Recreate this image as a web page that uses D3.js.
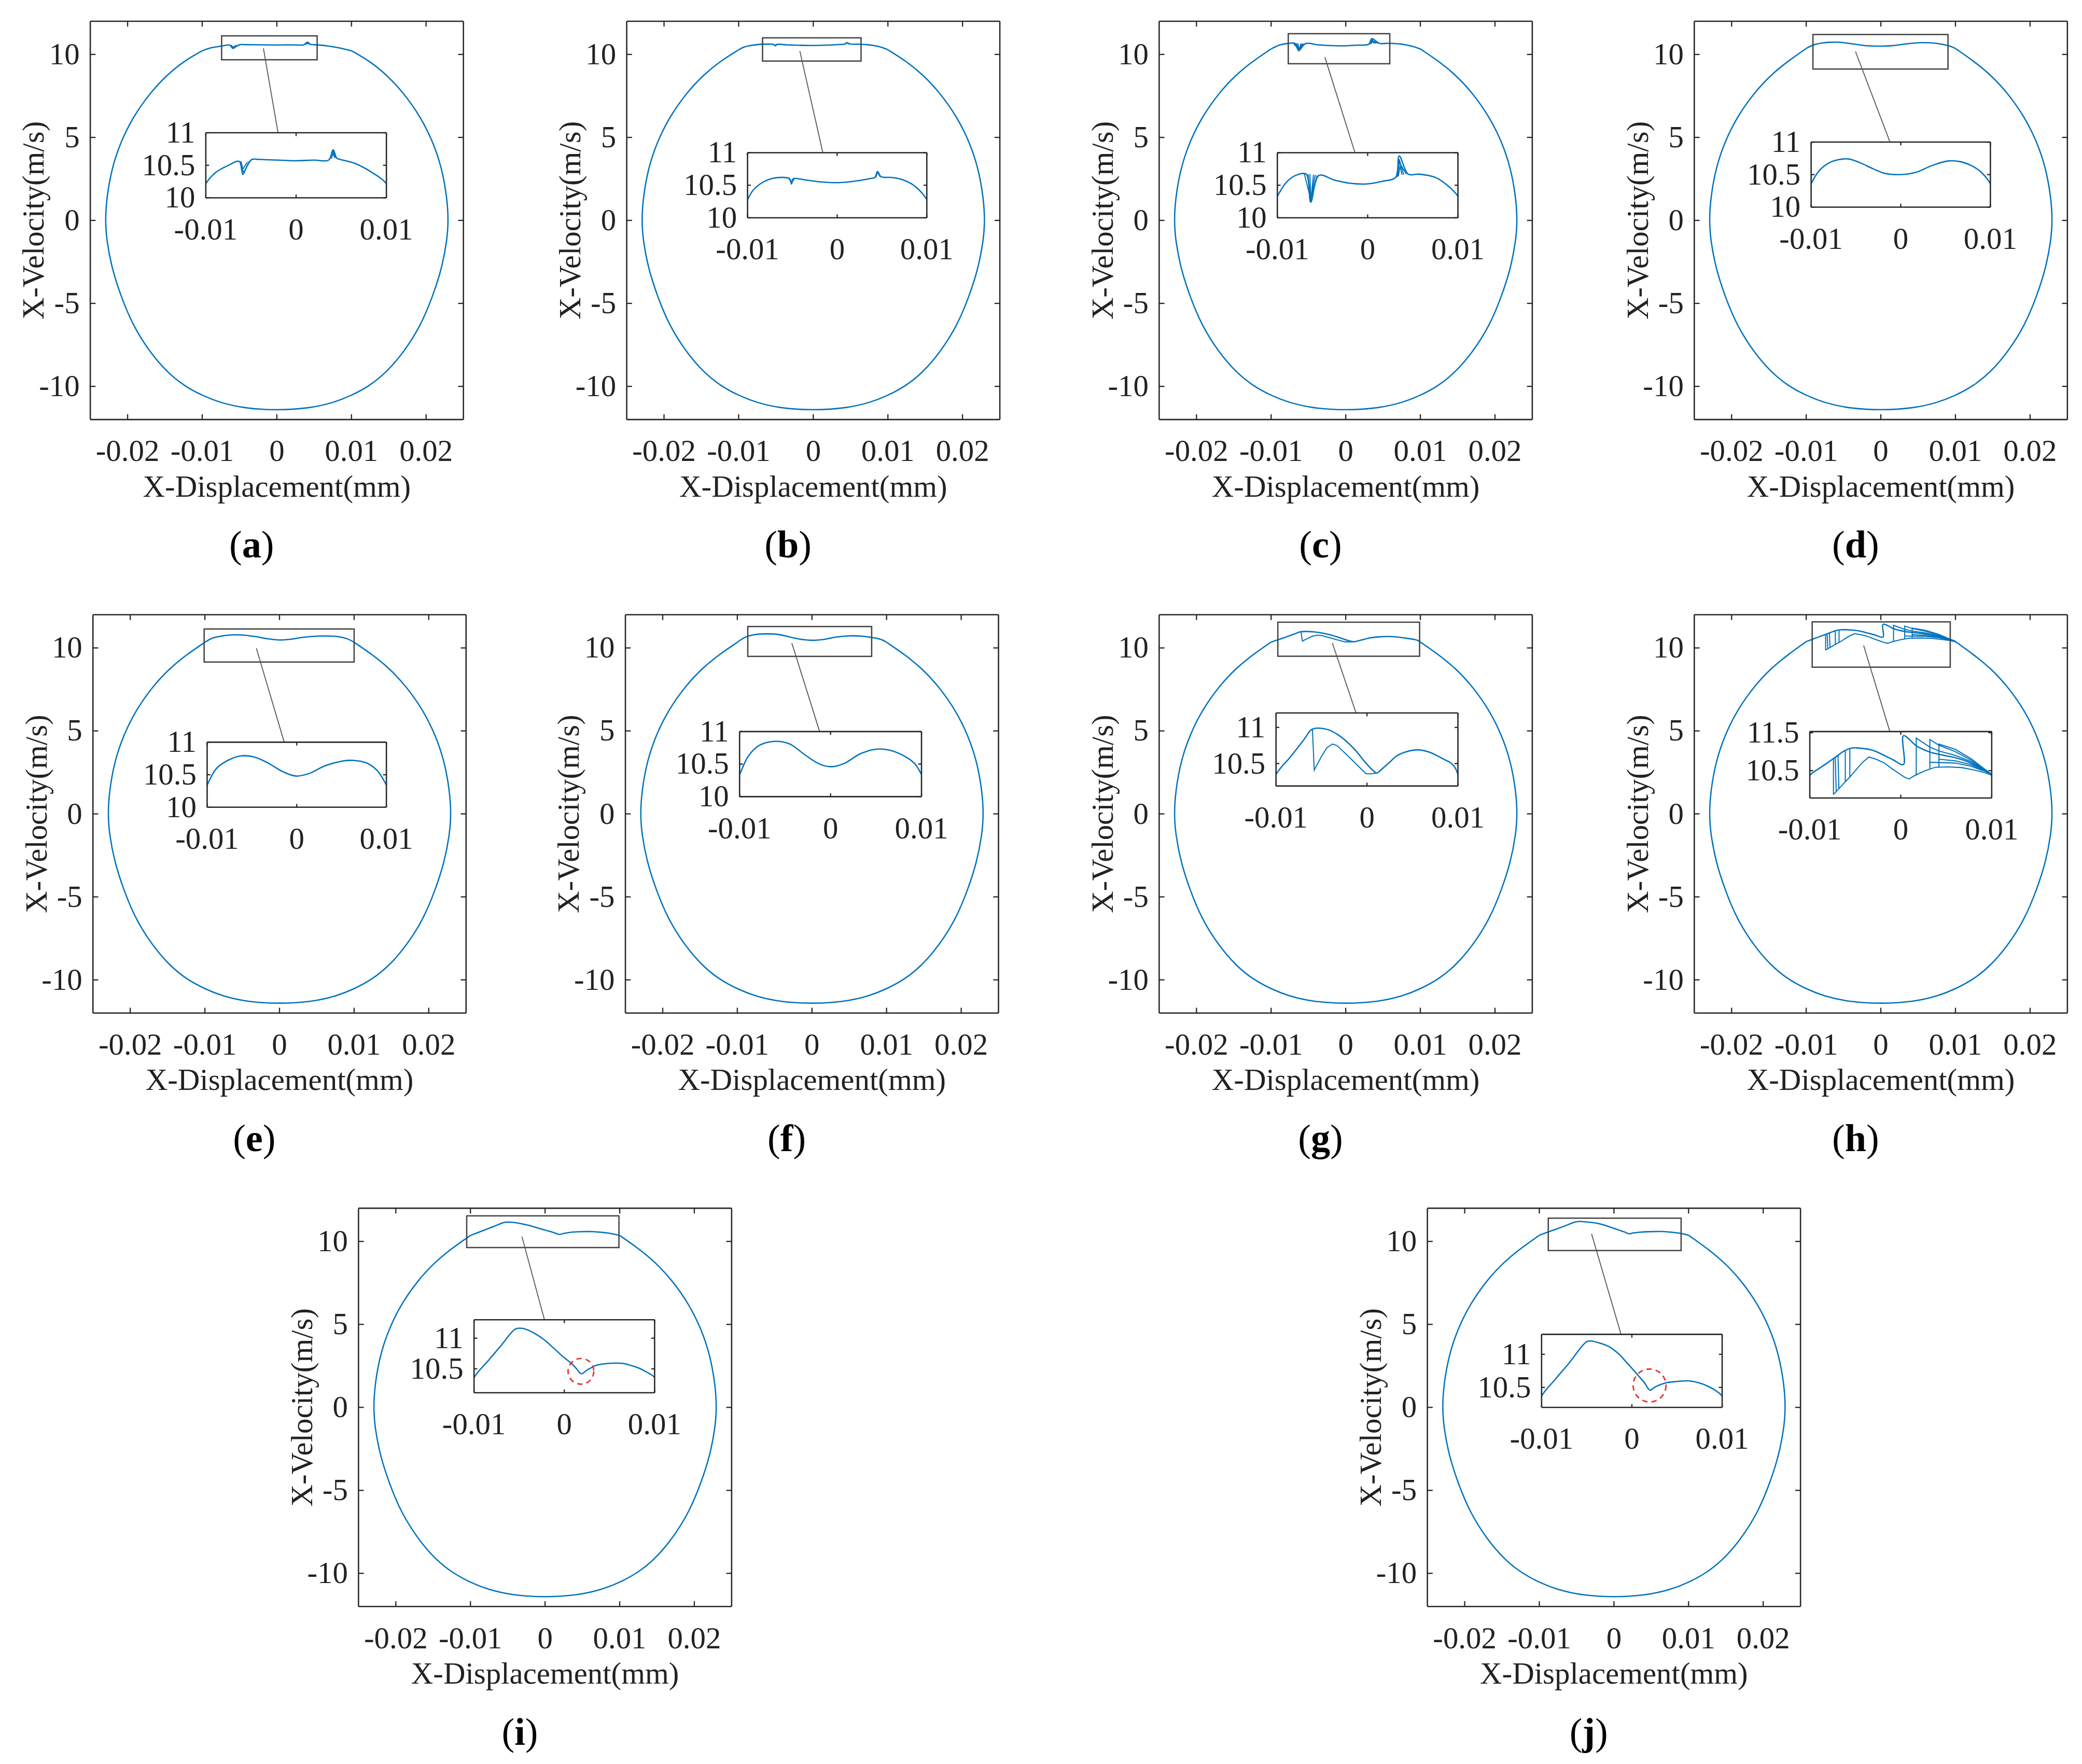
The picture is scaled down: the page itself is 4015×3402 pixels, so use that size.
<!DOCTYPE html>
<html>
<head>
<meta charset="utf-8">
<script src="https://cdnjs.cloudflare.com/ajax/libs/d3/7.8.5/d3.min.js"></script>
<style>
  body { margin: 0; background: #fff; }
  text { font-family: "Liberation Serif", "Times New Roman", serif; fill: #222; }
</style>
</head>
<body>
<div id="figure"></div>
<script>
// ---- data ----
var xTicks = [-0.02, -0.01, 0, 0.01, 0.02];
var xTickLabels = ["-0.02", "-0.01", "0", "0.01", "0.02"];
var yTicks = [-10, -5, 0, 5, 10];
var yTickLabels = ["-10", "-5", "0", "5", "10"];
var insetXTicks = [-0.01, 0, 0.01];
var insetXTickLabels = ["-0.01", "0", "0.01"];
var insetYTicksAF = [10, 10.5, 11];
var insetYTicksG = [10.5, 11];
var insetYTicksH = [10.5, 11.5];
var insetYTicksIJ = [10.5, 11];

// rest of the orbit, shared by all panels (right top -> bottom -> left top)
var orbit = [
  [0.0124, 9.61], [0.0147, 8.78], [0.0170, 7.68], [0.0193, 6.21], [0.0209, 4.75],
  [0.0221, 3.18], [0.0228, 1.40], [0.0230, 0.00], [0.0228, -1.23], [0.0221, -2.90],
  [0.0209, -4.56], [0.0193, -6.33], [0.0170, -7.95], [0.0147, -9.15], [0.0124, -9.98],
  [0.0100, -10.55], [0.0077, -10.97], [0.0043, -11.33], [0.0000, -11.44], [-0.0043, -11.33],
  [-0.0077, -10.97], [-0.0100, -10.55], [-0.0124, -9.98], [-0.0147, -9.15], [-0.0170, -7.95],
  [-0.0193, -6.33], [-0.0209, -4.56], [-0.0221, -2.90], [-0.0228, -1.23], [-0.0230, 0.00],
  [-0.0228, 1.40], [-0.0221, 3.18], [-0.0209, 4.75], [-0.0193, 6.21], [-0.0170, 7.68],
  [-0.0147, 8.78], [-0.0124, 9.61]
];

// top part of each orbit (the zoomed part), x from -0.01 to 0.01
var topA = [[-0.0100,10.22],[-0.0089,10.39],[-0.0075,10.50],[-0.0063,10.56],[-0.0059,10.36],[-0.0055,10.47],
  [-0.0049,10.59],[-0.0041,10.59],[-0.0020,10.58],[-0.0002,10.57],[0.0020,10.58],[0.0036,10.58],[0.0041,10.74],
  [0.0045,10.61],[0.0049,10.59],[0.0065,10.53],[0.0084,10.39],[0.0100,10.22]];
var extraA = [
  [[-0.0062,10.56],[-0.0058,10.38],[-0.0052,10.56]],
  [[-0.0061,10.56],[-0.0059,10.44],[-0.0054,10.55]],
  [[0.0037,10.59],[0.0041,10.72],[0.0044,10.62]],
  [[0.0039,10.60],[0.0041,10.68],[0.0043,10.61]]
];

var topB = [[-0.0100,10.28],[-0.0094,10.42],[-0.0086,10.52],[-0.0076,10.59],[-0.0062,10.62],[-0.0053,10.60],
  [-0.0051,10.52],[-0.0049,10.60],[-0.0035,10.58],[-0.0017,10.55],[0.0001,10.54],[0.0018,10.56],[0.0036,10.60],
  [0.0042,10.62],[0.0045,10.71],[0.0049,10.63],[0.0060,10.62],[0.0072,10.59],[0.0083,10.52],[0.0092,10.42],[0.0100,10.28]];
var extraB = [
  [[-0.0054,10.61],[-0.0051,10.53],[-0.0048,10.60]],
  [[0.0043,10.62],[0.0045,10.70],[0.0048,10.63]]
];

var topC = [[-0.0100,10.33],[-0.0089,10.56],[-0.0078,10.66],[-0.0068,10.67],[-0.0063,10.24],[-0.0054,10.65],
  [-0.0037,10.58],[-0.0019,10.53],[-0.0001,10.52],[0.0016,10.56],[0.0031,10.62],[0.0035,10.95],[0.0045,10.67],
  [0.0057,10.67],[0.0075,10.62],[0.0089,10.49],[0.0100,10.33]];
var extraC = [
  [[-0.0066,10.67],[-0.0063,10.24],[-0.0060,10.66]],
  [[-0.0064,10.67],[-0.0063,10.30],[-0.0058,10.66]],
  [[-0.0070,10.67],[-0.0063,10.28],[-0.0056,10.65]],
  [[0.0032,10.62],[0.0035,10.90],[0.0040,10.66]],
  [[0.0033,10.63],[0.0035,10.85],[0.0043,10.67]],
  [[0.0034,10.64],[0.0036,10.80],[0.0038,10.66]]
];

var topD = [[-0.0100,10.36],[-0.0091,10.56],[-0.0080,10.68],[-0.0069,10.73],[-0.0058,10.74],[-0.0045,10.68],
  [-0.0031,10.59],[-0.0018,10.52],[0.0000,10.50],[0.0018,10.54],[0.0035,10.64],[0.0053,10.71],[0.0066,10.70],
  [0.0080,10.63],[0.0091,10.52],[0.0100,10.36]];
var extraD = [];

var topE = [[-0.0100,10.34],[-0.0090,10.59],[-0.0077,10.72],[-0.0062,10.79],[-0.0047,10.77],[-0.0032,10.68],
  [-0.0016,10.55],[-0.0001,10.48],[0.0014,10.52],[0.0032,10.64],[0.0051,10.71],[0.0063,10.72],[0.0078,10.68],
  [0.0090,10.56],[0.0100,10.34]];
var extraE = [];

var topF = [[-0.0100,10.34],[-0.0090,10.63],[-0.0078,10.79],[-0.0061,10.85],[-0.0045,10.81],[-0.0027,10.63],
  [-0.0012,10.50],[0.0001,10.46],[0.0015,10.51],[0.0033,10.66],[0.0051,10.73],[0.0066,10.71],[0.0084,10.60],
  [0.0093,10.50],[0.0100,10.34]];
var extraF = [];

var topG = [[-0.0100,10.35],[-0.0085,10.58],[-0.0070,10.82],[-0.0061,10.97],[-0.0054,10.99],[-0.0043,10.97],
  [-0.0032,10.90],[-0.0021,10.79],[-0.0011,10.66],[-0.0002,10.52],[0.0007,10.40],[0.0011,10.37],[0.0016,10.42],
  [0.0025,10.52],[0.0033,10.61],[0.0045,10.67],[0.0057,10.69],[0.0068,10.66],[0.0077,10.61],[0.0086,10.55],
  [0.0092,10.51],[0.0097,10.44],[0.0100,10.35]];
var extraG = [
  [[-0.0060,10.98],[-0.0058,10.41],[-0.0050,10.60],[-0.0044,10.72],[-0.0038,10.77],[-0.0033,10.75],
   [-0.0022,10.62],[-0.0010,10.47],[-0.0001,10.36],[0.0005,10.36],[0.0011,10.37]]
];

var topH = [[-0.0100,10.38],[-0.0087,10.60],[-0.0075,10.80],[-0.0062,11.02],[-0.0055,11.09],[-0.0049,11.10],
  [-0.0040,11.08],[-0.0030,11.03],[-0.0018,10.90],[-0.0008,10.78],[0.0003,10.66],[0.0003,11.42],[0.0018,11.14],
  [0.0032,10.99],[0.0042,10.93],[0.0060,10.84],[0.0077,10.70],[0.0090,10.52],[0.0100,10.38]];
var extraH = [
  [[-0.0074,9.87],[-0.0055,10.36],[-0.0042,10.72],[-0.0035,10.86],[-0.0027,10.80],[-0.0018,10.70],
   [-0.0009,10.54],[0.0004,10.33],[0.0009,10.28],[0.0016,10.38],[0.0027,10.50],[0.0038,10.59],
   [0.0052,10.60],[0.0067,10.58],[0.0080,10.52],[0.0092,10.45],[0.0100,10.38]],
  [[-0.0074,10.82],[-0.0074,9.87]],
  [[-0.0072,10.86],[-0.0071,9.94]],
  [[-0.0069,10.91],[-0.0068,10.01]],
  [[-0.0061,11.03],[-0.0061,10.21]],
  [[-0.0056,11.08],[-0.0056,10.33]],
  [[0.0017,10.37],[0.0017,11.36],[0.0032,11.12],[0.0042,11.02],[0.0060,10.90],[0.0077,10.74],[0.0090,10.54],[0.0100,10.38]],
  [[0.0032,10.55],[0.0032,11.32],[0.0042,11.17],[0.0060,11.00],[0.0077,10.78],[0.0090,10.56],[0.0100,10.40]],
  [[0.0042,10.58],[0.0042,11.20],[0.0060,11.06],[0.0077,10.82],[0.0090,10.58],[0.0100,10.40]],
  [[0.0042,10.80],[0.0060,10.76],[0.0077,10.66],[0.0090,10.52]],
  [[0.0032,10.72],[0.0060,10.70],[0.0077,10.62],[0.0090,10.50]]
];

var topI = [[-0.0100,10.36],[-0.0085,10.62],[-0.0070,10.88],[-0.0054,11.15],[-0.0047,11.16],[-0.0040,11.13],
  [-0.0032,11.07],[-0.0022,10.97],[-0.0012,10.84],[0.0000,10.68],[0.0007,10.60],[0.0013,10.51],[0.0019,10.42],
  [0.0025,10.48],[0.0030,10.52],[0.0036,10.56],[0.0050,10.59],[0.0064,10.59],[0.0075,10.55],[0.0083,10.51],
  [0.0092,10.44],[0.0100,10.36]];
var extraI = [];

var topJ = [[-0.0100,10.37],[-0.0085,10.62],[-0.0070,10.86],[-0.0050,11.19],[-0.0045,11.20],[-0.0036,11.17],
  [-0.0026,11.12],[-0.0015,11.01],[-0.0006,10.88],[0.0007,10.68],[0.0014,10.57],[0.0020,10.46],[0.0026,10.51],
  [0.0038,10.57],[0.0050,10.59],[0.0063,10.60],[0.0074,10.57],[0.0084,10.52],[0.0093,10.45],[0.0100,10.37]];
var extraJ = [];

// ---- layout (drawn in a 1568-wide coordinate space, scaled to 4015 px) ----
var axW = 281, axH = 300;
var lineColor = "#0072bd";
var axisColor = "#262626";
var fontPx = 23;

var panels = [
  {label: "a", top: topA, extra: extraA, x0: 68, y0: 16, inset: [155, 100, 136, 49], insetY: [10, 11], insetTicks: insetYTicksAF,
   zoomX: [-0.0074, 0.0054], zoomY: [9.68, 11.12], link: [-0.0018, 10.37, 0.40]},
  {label: "b", top: topB, extra: extraB, x0: 472, y0: 16, inset: [563, 115, 135, 49], insetY: [10, 11], insetTicks: insetYTicksAF,
   zoomX: [-0.0068, 0.0064], zoomY: [9.6, 11.0], link: [-0.0018, 10.2, 0.42]},
  {label: "c", top: topC, extra: extraC, x0: 873, y0: 16, inset: [962, 115, 136, 49], insetY: [10, 11], insetTicks: insetYTicksAF,
   zoomX: [-0.0077, 0.0059], zoomY: [9.44, 11.25], link: [-0.0028, 9.84, 0.43]},
  {label: "d", top: topD, extra: extraD, x0: 1276, y0: 16, inset: [1364, 107, 135, 49], insetY: [10, 11], insetTicks: insetYTicksAF,
   zoomX: [-0.0091, 0.0090], zoomY: [9.12, 11.2], link: [-0.0034, 10.18, 0.44]},
  {label: "e", top: topE, extra: extraE, x0: 70, y0: 463, inset: [156, 559, 135, 49], insetY: [10, 11], insetTicks: insetYTicksAF,
   zoomX: [-0.0101, 0.0100], zoomY: [9.15, 11.14], link: [-0.0031, 9.98, 0.43]},
  {label: "f", top: topF, extra: extraF, x0: 471, y0: 463, inset: [557, 551, 137, 49], insetY: [10, 11], insetTicks: insetYTicksAF,
   zoomX: [-0.0086, 0.0080], zoomY: [9.49, 11.29], link: [-0.0027, 10.3, 0.44]},
  {label: "g", top: topG, extra: extraG, x0: 873, y0: 463, inset: [961, 537, 137, 55], insetY: [10.19, 11.2], insetTicks: insetYTicksG,
   zoomX: [-0.0091, 0.0099], zoomY: [9.5, 11.55], link: [-0.0018, 10.3, 0.44]},
  {label: "h", top: topH, extra: extraH, x0: 1276, y0: 463, inset: [1363, 551, 137, 50], insetY: [9.78, 11.53], insetTicks: insetYTicksH,
   zoomX: [-0.0092, 0.0093], zoomY: [8.84, 11.57], link: [-0.0023, 10.14, 0.44]},
  {label: "i", top: topI, extra: extraI, x0: 270, y0: 910, inset: [357, 994, 136, 55], insetY: [10.11, 11.3], insetTicks: insetYTicksIJ,
   zoomX: [-0.0105, 0.0099], zoomY: [9.63, 11.54], link: [-0.0031, 10.29, 0.39], mark: [0.00184, 10.46, 9.7]},
  {label: "j", top: topJ, extra: extraJ, x0: 1075, y0: 910, inset: [1161, 1005, 136, 55], insetY: [10.2, 11.3], insetTicks: insetYTicksIJ,
   zoomX: [-0.0088, 0.0090], zoomY: [9.45, 11.4], link: [-0.003, 10.46, 0.44], mark: [0.00196, 10.53, 12.4]}
];

var svg = d3.select("#figure").append("svg")
  .attr("width", 4015)
  .attr("height", 3402)
  .attr("viewBox", "0 0 1568 1328.6");

svg.append("rect").attr("width", 1568).attr("height", 1328.6).attr("fill", "#fff");

function styleAxis(sel) {
  sel.attr("font-family", "Liberation Serif, Times New Roman, serif").attr("font-size", fontPx);
  sel.select(".domain").attr("stroke", axisColor).attr("stroke-width", 1);
  sel.selectAll(".tick line").attr("stroke", axisColor).attr("stroke-width", 0.9);
  sel.selectAll(".tick text").attr("fill", "#222");
}

function drawBox(g, x, y, w, h, xt, xl, yt, yl, tick, xPad) {
  g.append("g").attr("transform", `translate(0,${h})`)
    .call(d3.axisBottom(x).tickValues(xt).tickFormat((d, i) => xl[i]).tickSizeInner(-tick).tickSizeOuter(0).tickPadding(xPad).offset(0))
    .call(styleAxis);
  g.append("g")
    .call(d3.axisLeft(y).tickValues(yt).tickFormat((d, i) => yl[i]).tickSizeInner(-tick).tickSizeOuter(0).tickPadding(8).offset(0))
    .call(styleAxis);
  g.append("g")
    .call(d3.axisTop(x).tickValues(xt).tickFormat("").tickSizeInner(-tick).tickSizeOuter(0).offset(0))
    .call(styleAxis);
  g.append("g").attr("transform", `translate(${w},0)`)
    .call(d3.axisRight(y).tickValues(yt).tickFormat("").tickSizeInner(-tick).tickSizeOuter(0).offset(0))
    .call(styleAxis);
}

panels.forEach(function(p) {
  var g = svg.append("g").attr("transform", `translate(${p.x0},${p.y0})`);

  var x = d3.scaleLinear().domain([-0.025, 0.025]).range([0, axW]);
  var y = d3.scaleLinear().domain([-12, 12]).range([axH, 0]);

  var clipId = "clip-" + p.label;
  g.append("clipPath").attr("id", clipId)
    .append("rect").attr("width", axW).attr("height", axH);

  var plot = g.append("g").attr("clip-path", `url(#${clipId})`);

  var topLine = d3.line().x(d => x(d[0])).y(d => y(d[1])).curve(d3.curveCatmullRom.alpha(0.5));
  var orbitLine = d3.line().x(d => x(d[0])).y(d => y(d[1])).curve(d3.curveBasis);
  var seg = d3.line().x(d => x(d[0])).y(d => y(d[1]));

  // big smooth part of the loop, then the detailed top part
  var rest = [p.top[p.top.length - 1]].concat(orbit, [p.top[0]]);
  plot.append("path")
    .attr("d", orbitLine(rest))
    .attr("fill", "none")
    .attr("stroke", lineColor)
    .attr("stroke-width", 1);

  plot.append("path")
    .attr("d", topLine(p.top))
    .attr("fill", "none")
    .attr("stroke", lineColor)
    .attr("stroke-width", 1);

  p.extra.forEach(function(e) {
    plot.append("path").attr("d", seg(e))
      .attr("fill", "none").attr("stroke", lineColor).attr("stroke-width", 0.8);
  });

  // zoom window
  g.append("rect")
    .attr("x", x(p.zoomX[0]))
    .attr("y", y(p.zoomY[1]))
    .attr("width", x(p.zoomX[1]) - x(p.zoomX[0]))
    .attr("height", y(p.zoomY[0]) - y(p.zoomY[1]))
    .attr("fill", "none")
    .attr("stroke", "#444")
    .attr("stroke-width", 1);

  drawBox(g, x, y, axW, axH, xTicks, xTickLabels, yTicks, yTickLabels, 4, 15);

  // axis titles
  g.append("text")
    .attr("x", axW / 2)
    .attr("y", axH + 58)
    .attr("text-anchor", "middle")
    .style("font-size", fontPx + "px")
    .text("X-Displacement(mm)");

  g.append("text")
    .attr("transform", `translate(-35,${axH / 2}) rotate(-90)`)
    .attr("text-anchor", "middle")
    .style("font-size", fontPx + "px")
    .text("X-Velocity(m/s)");

  // panel label
  var lab = svg.append("text")
    .attr("x", p.x0 + axW / 2 - 19)
    .attr("y", p.y0 + axH + 104)
    .attr("text-anchor", "middle")
    .style("font-size", "29px")
    .style("fill", "#000");
  lab.append("tspan").text("(");
  lab.append("tspan").attr("font-weight", "bold").text(p.label);
  lab.append("tspan").text(")");

  // connector line
  svg.append("line")
    .attr("x1", p.x0 + x(p.link[0]))
    .attr("y1", p.y0 + y(p.link[1]))
    .attr("x2", p.inset[0] + p.link[2] * p.inset[2])
    .attr("y2", p.inset[1])
    .attr("stroke", "#555")
    .attr("stroke-width", 0.7);

  // inset
  var iw = p.inset[2], ih = p.inset[3];
  var ig = svg.append("g").attr("transform", `translate(${p.inset[0]},${p.inset[1]})`);
  var ix = d3.scaleLinear().domain([-0.01, 0.01]).range([0, iw]);
  var iy = d3.scaleLinear().domain(p.insetY).range([ih, 0]);

  ig.append("rect").attr("width", iw).attr("height", ih).attr("fill", "#fff");
  var iclip = "iclip-" + p.label;
  ig.append("clipPath").attr("id", iclip).append("rect").attr("width", iw).attr("height", ih);
  var iplot = ig.append("g").attr("clip-path", `url(#${iclip})`);

  var iline = d3.line().x(d => ix(d[0])).y(d => iy(d[1])).curve(d3.curveCatmullRom.alpha(0.5));
  var iseg = d3.line().x(d => ix(d[0])).y(d => iy(d[1]));
  var withEnds = [orbit[orbit.length - 1]].concat(p.top, [orbit[0]]);

  iplot.append("path").attr("d", iline(withEnds))
    .attr("fill", "none").attr("stroke", lineColor).attr("stroke-width", 1);
  p.extra.forEach(function(e) {
    iplot.append("path").attr("d", iseg(e))
      .attr("fill", "none").attr("stroke", lineColor).attr("stroke-width", 0.8);
  });

  if (p.mark) {
    ig.append("circle")
      .attr("cx", ix(p.mark[0]))
      .attr("cy", iy(p.mark[1]))
      .attr("r", p.mark[2])
      .attr("fill", "none")
      .attr("stroke", "#e8312f")
      .attr("stroke-width", 1.1)
      .attr("stroke-dasharray", "4,3");
  }

  drawBox(ig, ix, iy, iw, ih, insetXTicks, insetXTickLabels, p.insetTicks, p.insetTicks.map(String), 2.5, 15);
});
</script>
</body>
</html>
